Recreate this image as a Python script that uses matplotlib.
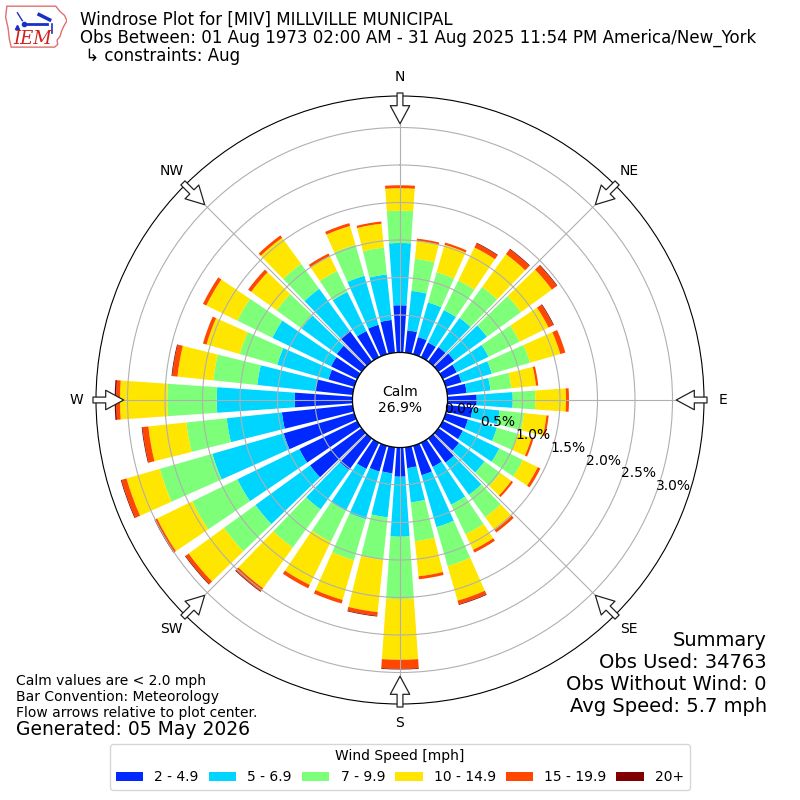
import numpy as np
import matplotlib
matplotlib.use("Agg")
import matplotlib.pyplot as plt
from matplotlib.patches import Patch, Polygon

directions = list(range(0, 360, 10))
speed_bins = ["2 - 4.9", "5 - 6.9", "7 - 9.9", "10 - 14.9", "15 - 19.9", "20+"]
calm_pct = 26.9

spd_2_5 = [0.63, 0.30, 0.24, 0.22, 0.24, 0.26, 0.21, 0.22, 0.26, 0.39, 0.34, 0.31,
           0.30, 0.34, 0.40, 0.36, 0.41, 0.28, 0.39, 0.35, 0.36, 0.39, 0.52, 0.85,
           0.86, 0.98, 0.95, 0.77, 0.50, 0.36, 0.39, 0.41, 0.51, 0.39, 0.41, 0.44]
spd_5_7 = [0.83, 0.53, 0.48, 0.48, 0.48, 0.54, 0.47, 0.42, 0.32, 0.48, 0.36, 0.40,
           0.54, 0.42, 0.53, 0.56, 0.72, 0.46, 0.80, 0.59, 0.66, 0.62, 0.65, 0.90,
           0.92, 0.99, 0.74, 1.04, 0.78, 0.71, 0.87, 0.58, 0.69, 0.58, 0.68, 0.61]
spd_7_10 = [0.43, 0.43, 0.42, 0.44, 0.51, 0.56, 0.46, 0.53, 0.28, 0.30, 0.33, 0.29,
            0.35, 0.26, 0.37, 0.44, 0.54, 0.52, 0.83, 0.57, 0.57, 0.46, 0.63, 0.52,
            0.67, 0.73, 0.54, 0.66, 0.59, 0.52, 0.52, 0.41, 0.41, 0.31, 0.43, 0.36]
spd_10_15 = [0.30, 0.24, 0.38, 0.49, 0.54, 0.51, 0.43, 0.42, 0.33, 0.41, 0.30, 0.19,
             0.22, 0.18, 0.21, 0.23, 0.48, 0.47, 0.81, 0.70, 0.55, 0.64, 0.67, 0.58,
             0.52, 0.46, 0.51, 0.63, 0.48, 0.46, 0.46, 0.42, 0.43, 0.22, 0.26, 0.32]
spd_15_20 = [0.04, 0.03, 0.03, 0.06, 0.08, 0.08, 0.07, 0.07, 0.03, 0.04, 0.03, 0.03,
             0.04, 0.03, 0.04, 0.04, 0.05, 0.04, 0.12, 0.05, 0.05, 0.05, 0.05, 0.05,
             0.03, 0.07, 0.08, 0.05, 0.07, 0.05, 0.05, 0.05, 0.04, 0.04, 0.04, 0.03]
spd_20_up = [0.00, 0.00, 0.00, 0.01, 0.01, 0.01, 0.01, 0.00, 0.00, 0.00, 0.00, 0.00,
             0.00, 0.00, 0.00, 0.00, 0.01, 0.00, 0.01, 0.01, 0.00, 0.00, 0.01, 0.01,
             0.01, 0.01, 0.01, 0.02, 0.01, 0.00, 0.00, 0.00, 0.00, 0.00, 0.00, 0.00]

ring_ticks = [0.0, 0.5, 1.0, 1.5, 2.0, 2.5, 3.0]
compass = ["N", "NE", "E", "SE", "S", "SW", "W", "NW"]

title_lines = ["Windrose Plot for [MIV] MILLVILLE MUNICIPAL",
               "Obs Between: 01 Aug 1973 02:00 AM - 31 Aug 2025 11:54 PM America/New_York",
               " \u21b3 constraints: Aug"]
notes = ["Calm values are < 2.0 mph", "Bar Convention: Meteorology",
         "Flow arrows relative to plot center."]
summary = ["Summary", "Obs Used: 34763", "Obs Without Wind: 0", "Avg Speed: 5.7 mph"]

# ---- figure ----
fig = plt.figure(figsize=(8, 8), dpi=100)
ax = fig.add_axes([0.12, 0.12, 0.76, 0.76], projection="polar")
ax.set_theta_zero_location("N")
ax.set_theta_direction(-1)
rorigin = -0.633
ax.set_rorigin(rorigin)
ax.set_ylim(0, 3.42)

colors = plt.cm.jet(np.linspace(0, 1, 7)[1:])
theta = np.deg2rad(directions)
bottom = np.zeros(len(directions))
series = [spd_2_5, spd_5_7, spd_7_10, spd_10_15, spd_15_20, spd_20_up]
for vals, col in zip(series, colors):
    vals = np.array(vals)
    ax.bar(theta, vals, width=np.deg2rad(8), bottom=bottom, color=col,
           edgecolor="none", linewidth=0)
    bottom = bottom + vals

# calm circle
circ = np.linspace(0, 2 * np.pi, 361)
ax.plot(circ, np.zeros_like(circ), color="k", lw=1, zorder=3)
ax.text(0, rorigin, "Calm\n%.1f%%" % calm_pct, ha="center", va="center", fontsize=10)

ax.set_rgrids(ring_ticks, labels=["%.1f%%" % t for t in ring_ticks], angle=110)
ax.set_thetagrids(np.arange(0, 360, 45), labels=compass)
ax.tick_params(axis="x", pad=3.5, labelsize=10)
ax.tick_params(axis="y", labelsize=10)
ax.grid(True, color="#b0b0b0", lw=0.8)

# flow arrows on the rim
for ang in np.arange(0, 360, 45):
    ax.annotate("", xy=(np.deg2rad(ang), 3.05), xytext=(np.deg2rad(ang), 3.46),
                arrowprops=dict(arrowstyle="simple,head_width=1.4,head_length=1.3,tail_width=0.42",
                                fc="white", ec="#222222", lw=0.9,
                                shrinkA=0, shrinkB=0),
                annotation_clip=False, zorder=5)

# ---- texts ----
fig.text(80 / 800, 1 - 25 / 800, title_lines[0], fontsize=12)
fig.text(80 / 800, 1 - 43 / 800, title_lines[1], fontsize=12)
fig.text(80 / 800, 1 - 61 / 800, title_lines[2], fontsize=12)

for i, line in enumerate(notes):
    fig.text(16 / 800, 1 - (685 + 16 * i) / 800, line, fontsize=10)
fig.text(16 / 800, 1 - 735 / 800, "Generated: 05 May 2026", fontsize=13.5)

for i, line in enumerate(summary):
    fig.text(767 / 800, 1 - (646.5 + 21.7 * i) / 800, line, fontsize=14, ha="right")

handles = [Patch(facecolor=c) for c in colors]
fig.legend(handles, speed_bins, loc="lower center", ncol=6, title="Wind Speed [mph]",
           bbox_to_anchor=(0.5, 0.004), fontsize=10, title_fontsize=10,
           columnspacing=0.7)

# ---- IEM logo ----
lax = fig.add_axes([5 / 800, 1 - 48 / 800, 62 / 800, 44 / 800])
lax.set_xlim(0, 1)
lax.set_ylim(0, 1)
lax.axis("off")
iowa = [(0.03, 0.95), (0.82, 0.95), (0.88, 0.84), (0.96, 0.74), (1.0, 0.62),
        (0.95, 0.5), (0.91, 0.38), (0.89, 0.27), (0.84, 0.18), (0.85, 0.08),
        (0.8, 0.02), (0.1, 0.02), (0.07, 0.2), (0.05, 0.45), (0.01, 0.7)]
lax.add_patch(Polygon(iowa, closed=True, fill=False, ec="#e07070", lw=1))
lax.plot([0.3, 0.68], [0.55, 0.55], color="#1a2fc8", lw=2)
lax.plot([0.3], [0.55], "o", color="#1a2fc8", ms=3)
lax.plot([0.55, 0.72], [0.76, 0.64], color="#1a2fc8", lw=2.5)
lax.plot([0.75, 0.75], [0.55, 0.35], color="#1a2fc8", lw=1.2)
lax.plot([0.2, 0.28], [0.8, 0.62], color="#1a2fc8", lw=1)
lax.plot([0.2], [0.48], "^", color="#1a2fc8", ms=3)
lax.text(0.13, 0.08, "IEM", color="#d02020", fontsize=13, family="DejaVu Serif",
         style="italic")

fig.savefig("out.png", dpi=100)
